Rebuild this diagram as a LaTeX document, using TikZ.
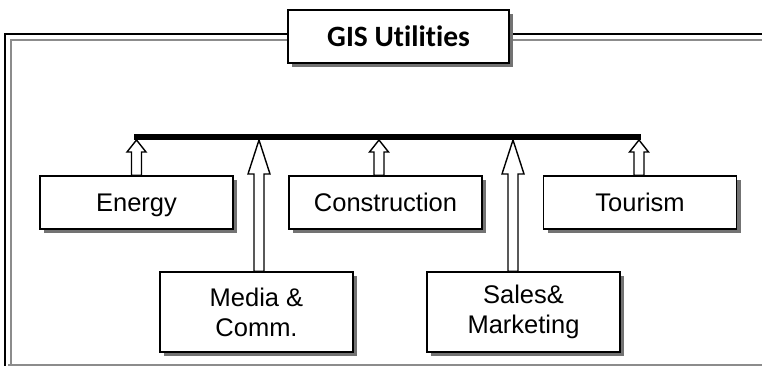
\documentclass[tikz,border=0pt]{standalone}
\usepackage{fontspec}
\setmainfont{Liberation Sans}
\newfontfamily\titlefont[Ligatures={NoCommon,NoDiscretionary,NoContextual}]{Carlito}
\usetikzlibrary{shadows,calc}
\tikzset{
  frameblack/.style={draw=black,line width=2pt},
  framegray/.style={draw=black!45,line width=2pt},
  box/.style={draw=black,line width=1.5pt,fill=white,minimum width=193pt,
    drop shadow={shadow xshift=4pt,shadow yshift=-4pt,fill=black!55,opacity=1},
    font=\fontsize{25.5}{30}\selectfont,align=center,inner sep=0pt},
  onebox/.style={box,minimum height=53pt,text depth=0pt},
  twobox/.style={box,minimum height=80pt},
  titlebox/.style={draw=black,line width=1.5pt,fill=white,minimum width=221pt,minimum height=53pt,
    drop shadow={shadow xshift=4pt,shadow yshift=-4pt,fill=black!55,opacity=1},
    font=\titlefont\bfseries\fontsize{29.5}{32}\selectfont,inner sep=0pt},
  busline/.style={draw=black,line width=5.5pt},
  arrowbody/.style={draw=black,line width=1.4pt,fill=white,line join=miter}
}
\newcommand{\blkarrow}[5]{%
  \draw[arrowbody] let \p1=(#1), \p2=(#2) in
    (\x1-#3,\y1) -- (\x1-#3,\y2-#5) -- (\x1-#4,\y2-#5) -- (\x2,\y2)
    -- (\x1+#4,\y2-#5) -- (\x1+#3,\y2-#5) -- (\x1+#3,\y1) -- cycle;}
\begin{document}
\begin{tikzpicture}[x=1pt,y=-1pt]
\useasboundingbox (0,0) rectangle (762,366);
% frame
\draw[framegray] (11,366) -- (11,40) -- (762,40);
\draw[framegray] (8,365) -- (762,365);
\draw[frameblack] (5,366) -- (5,34) -- (762,34);
% title
\node[titlebox] (title) at (398.5,36.5) {GIS Utilities};
% bus
\coordinate (busL) at (134,137);
\coordinate (busR) at (641,137);
\draw[busline] (busL) -- (busR);
% boxes
\node[onebox] (energy) at (136.5,202.5) {Energy};
\node[onebox] (constr) at (385.5,202.5) {Construction};
\node[onebox] (tour) at (640,202.5) {Tourism};
\node[twobox] (media) at (256.5,312) {Media \&\\Comm.};
\node[twobox] (sales) at (523.5,312) {Sales\&\\Marketing};
% arrow tips on the bus
\coordinate (tE) at (136.5,140);
\coordinate (tC) at (379,140);
\coordinate (tT) at (639,140);
\coordinate (tM) at (259,140);
\coordinate (tS) at (513,140);
% arrows
\blkarrow{energy.north -| tE}{tE}{5pt}{9.5pt}{12pt}
\blkarrow{constr.north -| tC}{tC}{5pt}{9.5pt}{12pt}
\blkarrow{tour.north -| tT}{tT}{5pt}{9.5pt}{12pt}
\blkarrow{media.north -| tM}{tM}{5pt}{11pt}{34pt}
\blkarrow{sales.north -| tS}{tS}{5pt}{11pt}{34pt}
\end{tikzpicture}
\end{document}
